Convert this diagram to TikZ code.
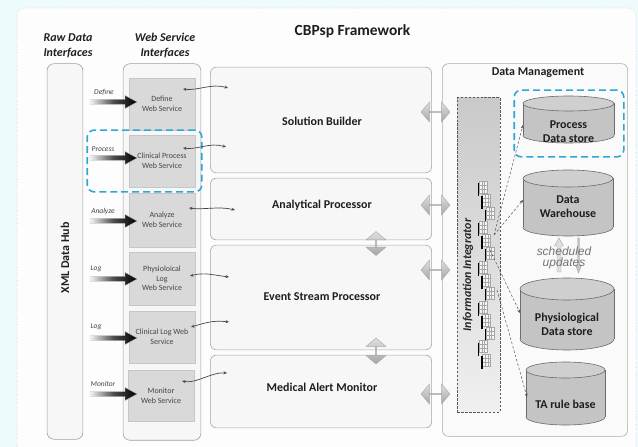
\documentclass[tikz,border=0pt]{standalone}
\usepackage{fontspec}
\setmainfont{Carlito}
\newfontfamily\arialfont{Liberation Sans}
\usetikzlibrary{shapes.arrows,arrows.meta}
\definecolor{bgcyan}{HTML}{EEFBFC}
\definecolor{framefill}{HTML}{FDFDFD}
\definecolor{hilite}{HTML}{2EA8D3}
\definecolor{svcfill}{HTML}{D9D9D9}
\definecolor{cylfill}{HTML}{C4C4C4}
\definecolor{cyltop}{HTML}{CFCFCF}
\definecolor{txtdark}{HTML}{1E1E1E}
\definecolor{txtgray}{HTML}{454545}
\newcommand{\fatarrow}[2]{%
  \coordinate (#1) at (137,#2);
  \shadedraw[left color=gray!8, right color=black, middle color=black!70, draw=gray!55, line width=0.3]
    (90,#2-2.5) -- (125,#2-2.5) -- (125,#2-6.5) -- (#1) -- (125,#2+6.5) -- (125,#2+2.5) -- (90,#2+2.5) -- cycle;}
\newcommand{\cylshape}[5]{%
  \pgfmathsetmacro\cylcx{(#1+#2)/2}\pgfmathsetmacro\cylrx{(#2-#1)/2}%
  \filldraw[draw=gray!85!black, fill=cylfill, line width=0.6] (\cylcx,#4-#5) ellipse [x radius=\cylrx, y radius=#5];
  \fill[cylfill] (#1,#3+#5) rectangle (#2,#4-#5);
  \draw[gray!85!black, line width=0.6] (#1,#3+#5) -- (#1,#4-#5) (#2,#3+#5) -- (#2,#4-#5);
  \filldraw[draw=gray!85!black, fill=cyltop, line width=0.6] (\cylcx,#3+#5) ellipse [x radius=\cylrx, y radius=#5];}
\begin{document}
\begin{tikzpicture}[x=1bp,y=-1bp,
  column/.style={draw=gray!75, fill=gray!6, rounded corners=7, line width=0.6, inner sep=0},
  svc/.style={draw=gray!45, fill=svcfill, line width=0.4, inner sep=1, align=center,
    text=txtgray, font=\fontsize{8}{9.7}\selectfont, minimum width=66},
  procbox/.style={draw=gray!70, fill=gray!6, rounded corners=6, line width=0.6, inner sep=0, minimum width=222},
  boldlbl/.style={text=txtdark, font=\bfseries\fontsize{12}{14}\selectfont, align=center, inner sep=0},
  bilbl/.style={text=txtdark, font=\bfseries\itshape\fontsize{12}{15}\selectfont, align=center, inner sep=0},
  smalllbl/.style={text=txtgray, font=\itshape\fontsize{7.5}{9}\selectfont, inner sep=0},
  hl/.style={draw=hilite, line width=1.6, dash pattern=on 7 off 4, rounded corners=7, inner sep=0},
  wavy/.style={draw=gray!55!black, line width=0.7, {Stealth[length=3.5,width=3]}-{Stealth[length=3.5,width=3]}},
  dblarr/.style={double arrow, draw=gray!70, top color=gray!25, bottom color=gray!70, line width=0.4,
    inner sep=0, double arrow head extend=6, double arrow tip angle=100, minimum width=20},
  dconn/.style={draw=gray!65!black, line width=0.5, dash pattern=on 2.5 off 2, -{Stealth[length=3.5,width=3]}},
]
\useasboundingbox (0,0) rectangle (638,447);
\clip (0,0) rectangle (638,447);
\fill[bgcyan] (0,0) rectangle (638,447);
\filldraw[draw=gray!45, dotted, fill=framefill, rounded corners=8, line width=0.6] (17,8) rectangle (636,470);

% titles
\node[boldlbl, font=\bfseries\fontsize{15.5}{18}\selectfont, anchor=base] (title) at (352.5,36) {CBPsp Framework};
\node[bilbl] (rawlbl) at (68,45.5) {Raw Data\\Interfaces};
\node[bilbl] (wslbl) at (165,45.5) {Web Service\\Interfaces};

% columns
\node[column, minimum width=36, minimum height=377] (hub) at (65,251.5) {};
\node[boldlbl, rotate=90] (hubl) at (65,258) {XML Data Hub};
\node[column, minimum width=78, minimum height=378] (wsc) at (162,252) {};

% service boxes
\node[svc, minimum height=52] (s1) at (162,104) {Define\\Web Service};
\node[svc, minimum height=52] (s2) at (162,161) {Clinical Process\\Web Service};
\node[svc, minimum height=54] (s3) at (162,220) {Analyze\\Web Service};
\node[svc, minimum height=53] (s4) at (162,278.5) {Physioloical\\Log\\Web Service};
\node[svc, minimum height=52] (s5) at (162,337) {Clinical Log Web\\Service};
\node[svc, minimum height=51] (s6) at (161,395.5) {Monitor\\Web Service};

% fat arrows and labels
\fatarrow{f1}{102}
\fatarrow{f2}{158}
\fatarrow{f3}{221}
\fatarrow{f4}{279}
\fatarrow{f5}{338}
\fatarrow{f6}{394}
\node[smalllbl] (l1) at (104,92) {Define};
\node[smalllbl] (l2) at (103,149) {Process};
\node[smalllbl] (l3) at (103,212) {Analyze};
\node[smalllbl] (l4) at (96,269) {Log};
\node[smalllbl] (l5) at (96,327) {Log};
\node[smalllbl] (l6) at (103,384) {Monitor};

% highlight around clinical process
\node[hl, minimum width=115, minimum height=62] (hl1) at (144.5,161) {};

% processing boxes
\node[procbox, minimum height=106] (sb) at (321,120) {};
\node[procbox, minimum height=62] (ap) at (321,209) {};
\node[procbox, minimum height=105] (esp) at (321,297.5) {};
\node[procbox, minimum height=73] (mam) at (321,391.5) {};
\node[boldlbl] (sbl) at (322,121) {Solution Builder};
\node[boldlbl] (apl) at (322,205) {Analytical Processor};
\node[boldlbl] (espl) at (322,297) {Event Stream Processor};
\node[boldlbl] (maml) at (322,387) {Medical Alert Monitor};

% wavy connectors
\coordinate (w1a) at (183,89);  \coordinate (w1b) at (228,88);
\coordinate (w2a) at (183,148); \coordinate (w2b) at (226,147);
\coordinate (w3a) at (189,208); \coordinate (w3b) at (235,210);
\coordinate (w4a) at (190,276); \coordinate (w4b) at (229,277);
\coordinate (w5a) at (191,327); \coordinate (w5b) at (229,322);
\coordinate (w6a) at (182,381); \coordinate (w6b) at (227,373);
\draw[wavy] (w1a) .. controls +(14,2) and +(-16,-5) .. (w1b);
\draw[wavy] (w2a) .. controls +(14,2) and +(-16,-5) .. (w2b);
\draw[wavy] (w3a) .. controls +(14,2) and +(-16,-4) .. (w3b);
\draw[wavy] (w4a) .. controls +(14,-4) and +(-16,-2) .. (w4b);
\draw[wavy] (w5a) .. controls +(14,-4) and +(-16,-2) .. (w5b);
\draw[wavy] (w6a) .. controls +(14,3) and +(-16,-1) .. (w6b);

% data management
\node[column, fill=gray!4, draw=gray!65, rounded corners=6, minimum width=186, minimum height=374] (dm) at (535,250) {};
\node[boldlbl] (dml) at (538,73) {Data Management};

% double arrows
\node[dblarr, minimum height=29] (da1) at (435.5,112) {};
\node[dblarr, minimum height=29] (da2) at (435.5,205) {};
\node[dblarr, minimum height=29] (da3) at (435.5,270) {};
\node[dblarr, minimum height=29] (da4) at (435.5,394) {};
\node[dblarr, minimum height=24, rotate=90] (da5) at (376,243.5) {};
\node[dblarr, minimum height=26, rotate=90] (da6) at (376,351) {};

% information integrator
\node[draw=gray!70!black, dash pattern=on 2.5 off 1.5, line width=0.5, top color=gray!42, bottom color=gray!12,
  minimum width=43, minimum height=316, inner sep=0] (ii) at (478.5,255) {};
\node[bilbl, text=black!85, rotate=90] (iil) at (468,275) {Information Integrator};
\foreach \i in {0,...,13} {
  \pgfmathsetmacro\icy{181+\i*13.3}
  \pgfmathsetmacro\icx{479+mod(\i,3)*3.5}
  \draw[gray!70, fill=white!92!gray, line width=0.3] (\icx,\icy) rectangle (\icx+8,\icy+12)
    (\icx+2.7,\icy) -- (\icx+2.7,\icy+12) (\icx+5.3,\icy) -- (\icx+5.3,\icy+12)
    (\icx,\icy+4) -- (\icx+8,\icy+4) (\icx,\icy+8) -- (\icx+8,\icy+8);
  \draw[black, line width=1.8] (\icx-0.6,\icy+2) -- (\icx-0.6,\icy+15);
}

% cylinders
\cylshape{523}{614}{96}{143}{7.5}
\node[boldlbl] (pds) at (568.5,132) {Process\\Data store};
\cylshape{523}{613}{170}{236}{8.5}
\node[boldlbl] (dw) at (568,207) {Data\\Warehouse};
\cylshape{520}{614}{278}{350}{11}
\node[boldlbl] (phys) at (567,324) {Physiological\\Data store};
\cylshape{526}{605}{362}{425}{8}
\node[boldlbl] (ta) at (565.5,404) {TA rule base};

\node[hl, minimum width=110, minimum height=67] (hl2) at (569,123.5) {};

% scheduled update arrows
\coordinate (upt) at (559,238);
\coordinate (dnt) at (578.5,273);
\filldraw[draw=gray!70, fill=green!4!gray!25, line width=0.4]
  (557,272) -- (557,246) -- (554.5,246) -- (upt) -- (563.5,246) -- (561,246) -- (561,272) -- cycle;
\filldraw[draw=gray!70, fill=gray!45, line width=0.4]
  (577.5,238) -- (577.5,265) -- (575.5,265) -- (dnt) -- (581.5,265) -- (579.5,265) -- (579.5,238) -- cycle;
\node[text=gray!90!black, font=\arialfont\itshape\fontsize{12}{11.5}\selectfont, align=center, inner sep=0] (sched) at (564,258) {scheduled\\updates};

% dashed connectors from integrator
\coordinate (ia) at (494,235);
\coordinate (ib) at (490,250);
\coordinate (ic) at (497,290);
\coordinate (pdsin) at (523,125);
\coordinate (dwin) at (523,200);
\coordinate (physin) at (520,313);
\coordinate (tain) at (527,397);
\draw[dconn] (ia) -- (pdsin);
\draw[dconn] (ia) -- (dwin);
\draw[dconn] (ib) -- (physin);
\draw[dconn] (ic) -- (tain);
\end{tikzpicture}
\end{document}
